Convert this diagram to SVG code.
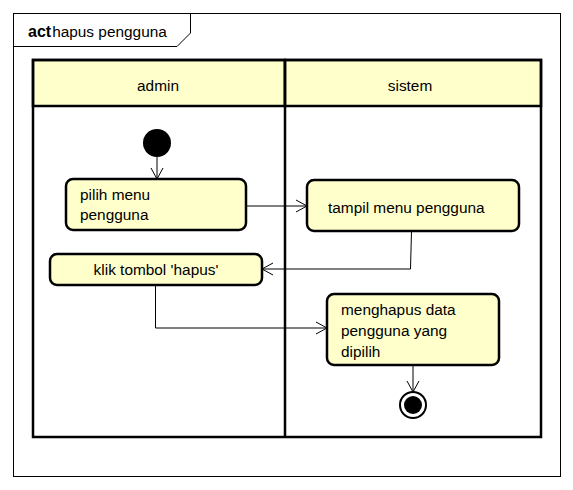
<svg xmlns="http://www.w3.org/2000/svg" width="573" height="490" viewBox="0 0 573 490">
<defs>
<style>
text{font-family:"Liberation Sans",Arial,sans-serif;font-size:15.4px;fill:#000}
.act{fill:#FFFFCC;stroke:#000;stroke-width:2.5}
.lane{fill:none;stroke:#000;stroke-width:2.5}
.hdr{fill:#FFFFCC;stroke:#000;stroke-width:2.5}
.c{fill:none;stroke:#000;stroke-width:1}
</style>
<marker id="ah" markerWidth="14" markerHeight="14" refX="12" refY="7" orient="auto" markerUnits="userSpaceOnUse">
<path d="M1,1 L12,7 L1,13" fill="none" stroke="#000" stroke-width="1"/>
</marker>
</defs>
<rect x="0" y="0" width="573" height="490" fill="#fff"/>
<g id="frame">
<rect x="13.5" y="13.5" width="547" height="463" fill="none" stroke="#000" stroke-width="1"/>
<path d="M13.5,46.5 L177,46.5 L190.5,33 L190.5,13.5" fill="none" stroke="#000" stroke-width="1"/>
<text x="28" y="37"><tspan font-weight="bold" font-size="16px">act</tspan><tspan dx="1">hapus pengguna</tspan></text>
</g>
<g id="lanes">
<rect class="hdr" x="33" y="60" width="252" height="46"/>
<rect class="hdr" x="285" y="60" width="256" height="46"/>
<rect class="lane" x="33" y="60" width="508" height="377"/>
<line x1="285" y1="60" x2="285" y2="437" stroke="#000" stroke-width="2.5"/>
<text x="158" y="91" text-anchor="middle">admin</text>
<text x="410" y="91" text-anchor="middle">sistem</text>
</g>
<g id="start"><circle cx="157" cy="143" r="14" fill="#000"/></g>
<g id="pilih">
<rect class="act" x="66" y="179" width="180" height="51" rx="7"/>
<text x="80" y="200">pilih menu</text>
<text x="80" y="220">pengguna</text>
</g>
<g id="tampil">
<rect class="act" x="307" y="180" width="212" height="51" rx="7"/>
<text x="328" y="213">tampil menu pengguna</text>
</g>
<g id="klik">
<rect class="act" x="50" y="254" width="212" height="31" rx="7"/>
<text x="156" y="275" text-anchor="middle">klik tombol 'hapus'</text>
</g>
<g id="menghapus">
<rect class="act" x="327" y="294" width="172" height="71" rx="7"/>
<text x="341" y="315">menghapus data</text>
<text x="341" y="336">pengguna yang</text>
<text x="341" y="357">dipilih</text>
</g>
<g id="end">
<circle cx="413" cy="405" r="13" fill="#fff" stroke="#000" stroke-width="2"/>
<circle cx="413" cy="405" r="9" fill="#000"/>
</g>
<g id="connectors">
<path class="c" d="M157,157 L157,179" marker-end="url(#ah)"/>
<path class="c" d="M246,206 L307,206" marker-end="url(#ah)"/>
<path class="c" d="M411.5,231 L410.5,269 L262,269" marker-end="url(#ah)"/>
<path class="c" d="M155.5,285 L155.5,328 L327,328" marker-end="url(#ah)"/>
<path class="c" d="M413,365 L413,392" marker-end="url(#ah)"/>
</g>
</svg>
